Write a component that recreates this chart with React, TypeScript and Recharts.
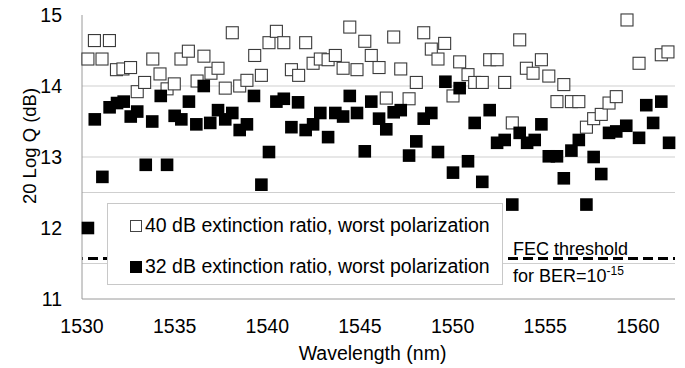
import React from 'react';
import { ScatterChart, Scatter, XAxis, YAxis, ReferenceLine, Legend, Label } from 'recharts';

const xTicks = [1530, 1535, 1540, 1545, 1550, 1555, 1560];
const yTicks = [11, 12, 13, 14, 15];
const gridValues = [14, 13, 12.5, 11.5];
const fecThreshold = 11.57;

const seriesNames = [
  '40 dB extinction ratio, worst polarization',
  '32 dB extinction ratio, worst polarization',
];

const wl40 = [
  1530.32, 1530.67, 1531.08, 1531.48, 1531.86, 1532.21, 1532.62, 1532.98, 1533.38, 1533.82,
  1534.21, 1534.59, 1534.98, 1535.34, 1535.74, 1536.21, 1536.58, 1536.96, 1537.34, 1537.73,
  1538.11, 1538.51, 1538.90, 1539.32, 1539.68, 1540.09, 1540.49, 1540.89, 1541.30, 1541.69,
  1542.07, 1542.47, 1542.86, 1543.28, 1543.67, 1544.09, 1544.45, 1544.84, 1545.26, 1545.61,
  1546.03, 1546.42, 1546.82, 1547.20, 1547.65, 1548.04, 1548.44, 1548.85, 1549.21, 1549.57,
  1550.02, 1550.38, 1550.83, 1551.19, 1551.60, 1552.00, 1552.40, 1552.81, 1553.22, 1553.62,
  1553.98, 1554.34, 1554.79, 1555.19, 1555.63, 1556.00, 1556.41, 1556.81, 1557.22, 1557.61,
  1558.02, 1558.44, 1558.83, 1559.41, 1560.06, 1561.26, 1561.62,
];
const q40 = [
  14.38, 14.64, 14.38, 14.64, 14.23, 14.24, 14.26, 13.92, 14.05, 14.38,
  14.17, 13.96, 14.03, 14.38, 14.49, 14.07, 14.42, 14.18, 14.25, 13.97,
  14.75, 14.00, 14.08, 14.43, 14.15, 14.61, 14.77, 14.61, 14.23, 14.15,
  14.61, 14.32, 14.38, 14.37, 14.43, 14.25, 14.83, 14.23, 14.63, 14.43,
  14.26, 13.83, 14.69, 14.24, 13.82, 14.05, 14.75, 14.52, 14.38, 14.60,
  13.86, 14.34, 14.16, 14.05, 14.05, 14.37, 14.37, 14.05, 13.48, 14.65,
  14.25, 14.18, 14.37, 14.14, 13.78, 14.02, 13.78, 13.78, 13.42, 13.54,
  13.60, 13.76, 13.85, 14.93, 14.32, 14.44, 14.48,
];

const wl32 = [
  1530.32, 1530.69, 1531.10, 1531.49, 1531.89, 1532.25, 1532.63, 1532.98, 1533.44, 1533.79,
  1534.25, 1534.59, 1535.00, 1535.36, 1535.77, 1536.17, 1536.57, 1536.92, 1537.34, 1537.73,
  1538.11, 1538.51, 1538.90, 1539.28, 1539.68, 1540.09, 1540.49, 1540.89, 1541.30, 1541.66,
  1542.07, 1542.47, 1542.86, 1543.28, 1543.67, 1544.09, 1544.45, 1544.84, 1545.26, 1545.61,
  1546.03, 1546.42, 1546.82, 1547.20, 1547.65, 1548.04, 1548.44, 1548.85, 1549.21, 1549.61,
  1550.02, 1550.38, 1550.83, 1551.19, 1551.60, 1552.00, 1552.40, 1552.81, 1553.22, 1553.62,
  1554.02, 1554.43, 1554.79, 1555.19, 1555.63, 1556.00, 1556.41, 1556.81, 1557.22, 1557.61,
  1558.02, 1558.44, 1558.83, 1559.37, 1560.06, 1560.45, 1560.82, 1561.26, 1561.68,
];
const q32 = [
  12.00, 13.53, 12.72, 13.70, 13.76, 13.78, 13.57, 13.64, 12.89, 13.50,
  13.86, 12.89, 13.58, 13.53, 13.78, 13.46, 14.00, 13.48, 13.66, 13.53,
  13.62, 13.38, 13.46, 13.86, 12.61, 13.07, 13.78, 13.82, 13.42, 13.77,
  13.38, 13.46, 13.62, 13.28, 13.62, 13.57, 13.86, 13.62, 13.08, 13.78,
  13.54, 13.39, 13.63, 13.66, 13.02, 13.22, 13.54, 13.62, 13.07, 14.06,
  12.78, 13.97, 12.94, 13.48, 12.65, 13.66, 13.20, 13.24, 12.33, 13.34,
  13.20, 13.24, 13.46, 13.01, 13.01, 12.70, 13.09, 13.24, 12.33, 13.00,
  12.76, 13.34, 13.36, 13.44, 13.27, 13.73, 13.48, 13.78, 13.20,
];

const data40 = wl40.map((x, i) => ({ x, y: q40[i] }));
const data32 = wl32.map((x, i) => ({ x, y: q32[i] }));

const FONT = '"Liberation Sans", Arial, sans-serif';
const FS = 19.5;

const WhiteSquare = (props: any) => {
  const { cx, cy } = props;
  if (cx == null || cy == null) return null;
  return <rect x={cx - 6} y={cy - 6} width={12} height={12} fill="#ffffff" stroke="#3a3a3a" strokeWidth={1.1} />;
};
const BlackSquare = (props: any) => {
  const { cx, cy } = props;
  if (cx == null || cy == null) return null;
  return <rect x={cx - 6.3} y={cy - 6.3} width={12.6} height={12.6} fill="#000000" />;
};

const LegendBox = () => (
  <div style={{ position: 'relative', width: '100%', height: '100%', fontFamily: FONT, fontSize: FS, color: '#000' }}>
    <div style={{ position: 'absolute', left: 22, top: 10, display: 'flex', alignItems: 'center', whiteSpace: 'nowrap' }}>
      <span style={{ display: 'inline-block', width: 10, height: 10, border: '1px solid #444', background: '#fff', marginRight: 3 }} />
      <span>{seriesNames[0]}</span>
    </div>
    <div style={{ position: 'absolute', left: 22, top: 51, display: 'flex', alignItems: 'center', whiteSpace: 'nowrap' }}>
      <span style={{ display: 'inline-block', width: 12, height: 12, background: '#000', marginRight: 3 }} />
      <span>{seriesNames[1]}</span>
    </div>
  </div>
);

const FecLabel = (props: any) => {
  const vb = props.viewBox || {};
  const right = (vb.x || 0) + (vb.width || 0);
  const y = vb.y || 0;
  const tx = right - 162;
  return (
    <g fontFamily={FONT} fontSize={18} fill="#000">
      <text x={tx} y={y - 4}>FEC threshold</text>
      <text x={tx} y={y + 23}>
        for BER=10<tspan fontSize={12} dy={-7}>-15</tspan>
      </text>
    </g>
  );
};

const YLabel = (props: any) => {
  const vb = props.viewBox || {};
  const cx = (vb.x || 0) + 29;
  const cy = (vb.y || 0) + (vb.height || 0) / 2 - 11;
  return (
    <text x={cx} y={cy} transform={`rotate(-90 ${cx} ${cy})`} textAnchor="middle" dominantBaseline="central" fontFamily={FONT} fontSize={18.5} fill="#000">
      20 Log Q (dB)
    </text>
  );
};

export default function App() {
  return (
    <div style={{ position: 'absolute', left: 0, top: 0, background: '#fff' }}>
      <ScatterChart width={685} height={368} margin={{ top: 15, right: 10, bottom: 0, left: 0 }} style={{ fontFamily: FONT }}>
        {gridValues.map((v) => (
          <ReferenceLine key={v} y={v} stroke="#cfcfcf" strokeWidth={1} />
        ))}
        <XAxis
          type="number"
          dataKey="x"
          domain={[1530, 1562]}
          ticks={xTicks}
          height={69}
          tickLine={false}
          tickSize={0}
          tickMargin={20}
          stroke="#9a9a9a"
          tick={{ fill: '#000', fontSize: FS, fontFamily: FONT }}
        >
          <Label value="Wavelength (nm)" position="insideBottom" offset={8} dx={-6} style={{ fontSize: FS, fontFamily: FONT, fill: '#000' }} />
        </XAxis>
        <YAxis
          type="number"
          dataKey="y"
          domain={[11, 15]}
          ticks={yTicks}
          width={82}
          tickLine={false}
          tickSize={0}
          tickMargin={20}
          stroke="#9a9a9a"
          tick={{ fill: '#000', fontSize: FS, fontFamily: FONT }}
        >
          <Label content={<YLabel />} position="insideLeft" />
        </YAxis>
        <ReferenceLine
          y={fecThreshold}
          stroke="#000"
          strokeWidth={3}
          strokeDasharray="10 5"
          strokeDashoffset={9}
          label={<FecLabel />}
        />
        <Scatter name={seriesNames[0]} data={data40} shape={<WhiteSquare />} isAnimationActive={false} />
        <Scatter name={seriesNames[1]} data={data32} shape={<BlackSquare />} isAnimationActive={false} />
        <Legend
          layout="vertical"
          align="center"
          verticalAlign="middle"
          content={<LegendBox />}
          wrapperStyle={{
            left: 107,
            top: 203,
            width: 396,
            height: 82,
            border: '1px solid #c8c8c8',
            background: '#ffffff',
            boxSizing: 'border-box',
          }}
        />
      </ScatterChart>
    </div>
  );
}
